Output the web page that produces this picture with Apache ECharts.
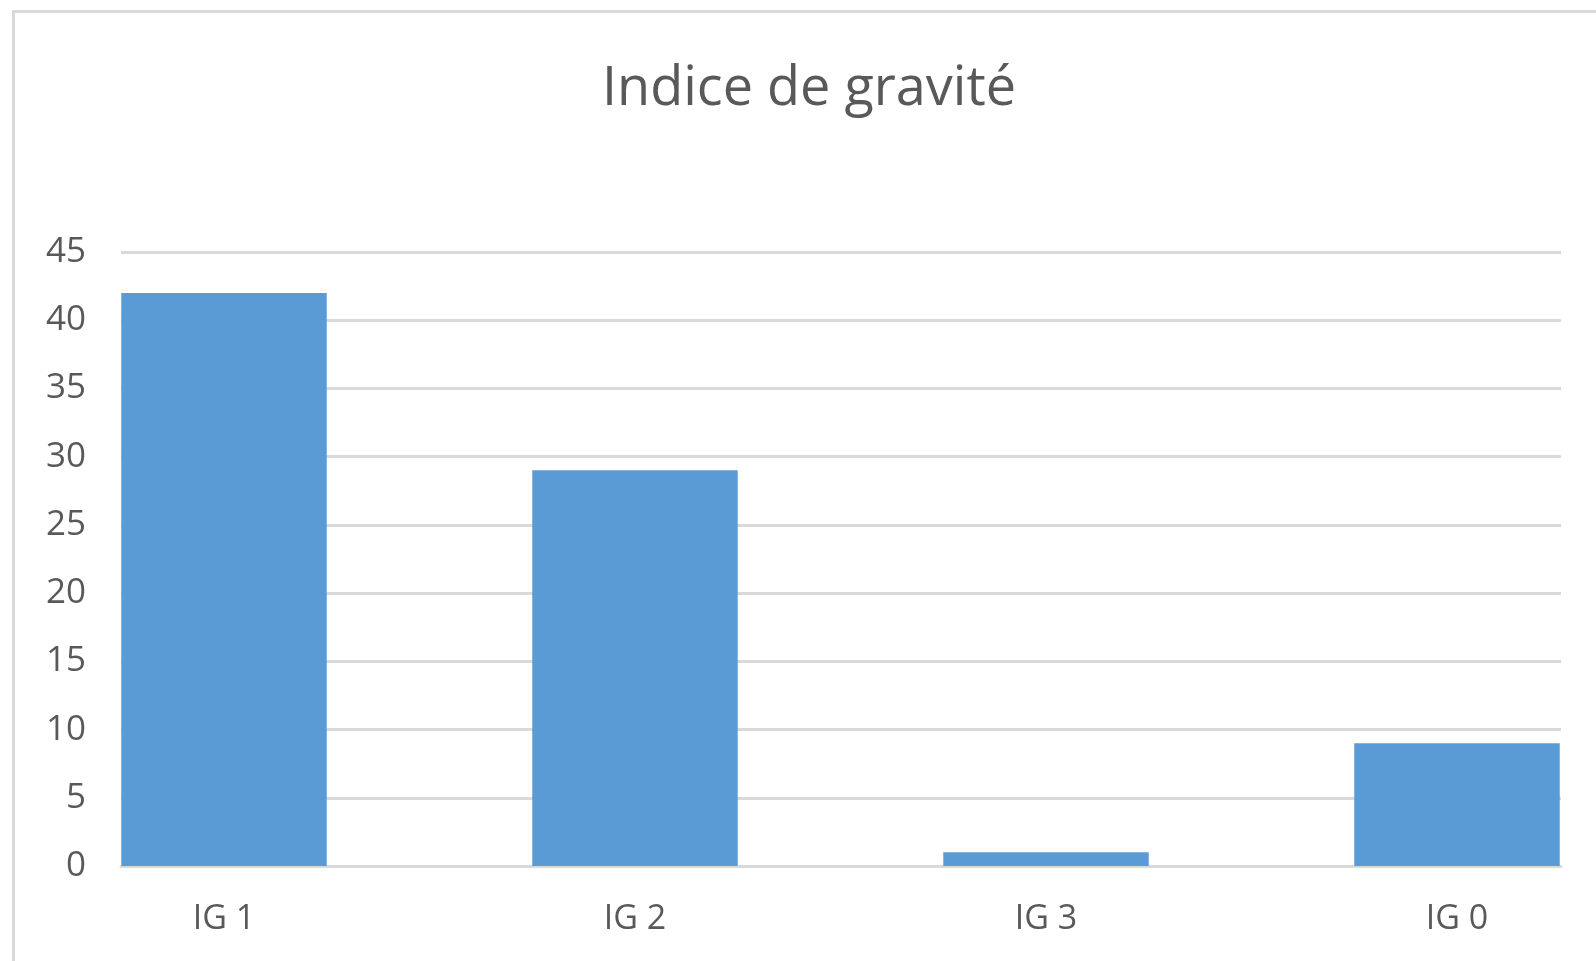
<!DOCTYPE html>
<html>
<head>
<meta charset="utf-8">
<title>Indice de gravité</title>
<script src="https://cdn.jsdelivr.net/npm/echarts@6/dist/echarts.min.js"></script>
<style>
  html, body { margin: 0; padding: 0; background: #fff; }
  #chart { width: 1596px; height: 961px; }
</style>
</head>
<body>
<div id="chart"></div>
<script>
// données
const categories = ['IG 1', 'IG 2', 'IG 3', 'IG 0'];
const values = [42, 29, 1, 9];
const yTicks = [0, 5, 10, 15, 20, 25, 30, 35, 40, 45];

const textColor = '#595959';
const lineColor = '#d9d9d9';

const chart = echarts.init(document.getElementById('chart'));

const option = {
  backgroundColor: '#fff',
  animation: false,
  title: {
    text: 'Indice de gravité',
    left: 597,
    top: 58,
    textStyle: {
      fontFamily: 'Open Sans',
      fontSize: 54,
      fontWeight: 'normal',
      color: textColor
    }
  },
  // cadre gris en haut et à gauche
  graphic: [{
    type: 'rect',
    shape: { x: 13.5, y: 11.5, width: 3000, height: 3000 },
    style: { fill: 'none', stroke: lineColor, lineWidth: 3 },
    silent: true
  }],
  grid: [
    // grille des lignes horizontales
    { left: 121, right: 35, top: 252, bottom: 95, outerBoundsMode: 'none' },
    // grille des barres (catégories plus larges)
    { left: 18.5, width: 1644, top: 252, bottom: 95, outerBoundsMode: 'none' }
  ],
  xAxis: [{
    gridIndex: 0,
    type: 'category',
    data: categories,
    axisLine: { show: true, lineStyle: { color: lineColor, width: 3 } },
    axisTick: { show: false },
    axisLabel: { show: false }
  }, {
    gridIndex: 1,
    type: 'category',
    data: categories,
    axisLine: { show: false },
    axisTick: { show: false },
    axisLabel: {
      color: textColor,
      fontFamily: 'Open Sans',
      fontSize: 34,
      margin: 36
    }
  }],
  yAxis: [{
    gridIndex: 0,
    type: 'value',
    min: yTicks[0],
    max: yTicks[yTicks.length - 1],
    interval: yTicks[1] - yTicks[0],
    axisLine: { show: false },
    axisTick: { show: false },
    axisLabel: {
      color: textColor,
      fontFamily: 'Open Sans',
      fontSize: 35,
      margin: 35
    },
    splitLine: { lineStyle: { color: lineColor, width: 3 } }
  }, {
    gridIndex: 1,
    type: 'value',
    min: yTicks[0],
    max: yTicks[yTicks.length - 1],
    show: false,
    splitLine: { show: false }
  }],
  series: [{
    type: 'bar',
    xAxisIndex: 1,
    yAxisIndex: 1,
    data: values,
    barWidth: '50%',
    itemStyle: { color: '#5b9bd5' }
  }]
};

chart.setOption(option);
</script>
</body>
</html>
